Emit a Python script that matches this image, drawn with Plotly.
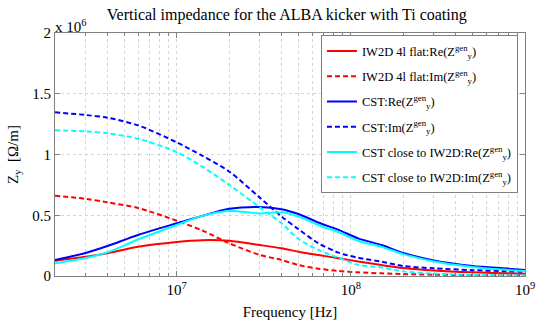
import plotly.graph_objects as go

# Frequencies [Hz]
freq = [2e6, 3e6, 4e6, 6e6, 1e7, 1.4e7, 2e7, 3e7, 4e7, 5e7, 6.5e7, 8.5e7,
        1.1e8, 1.5e8, 2e8, 3e8, 5e8, 7.5e8, 1e9]

# Impedance values in units of 1e6 Ohm/m
iw2d_re = [0.126, 0.158, 0.187, 0.240, 0.280, 0.295, 0.290, 0.255, 0.228, 0.200,
           0.173, 0.146, 0.120, 0.090, 0.066, 0.045, 0.030, 0.023, 0.019]
iw2d_im = [0.661, 0.635, 0.606, 0.560, 0.455, 0.375, 0.270, 0.173, 0.132, 0.090,
           0.060, 0.042, 0.030, 0.022, 0.016, 0.011, 0.007, 0.005, 0.003]
cst_re = [0.132, 0.190, 0.247, 0.338, 0.434, 0.495, 0.553, 0.568, 0.550, 0.510,
          0.440, 0.380, 0.310, 0.255, 0.190, 0.128, 0.083, 0.063, 0.050]
cst_im = [1.347, 1.325, 1.303, 1.240, 1.100, 0.990, 0.860, 0.645, 0.490, 0.385,
          0.270, 0.192, 0.150, 0.118, 0.082, 0.063, 0.048, 0.040, 0.035]
cstc_re = [0.104, 0.148, 0.195, 0.300, 0.420, 0.495, 0.535, 0.515, 0.525, 0.490,
           0.420, 0.360, 0.290, 0.240, 0.180, 0.120, 0.075, 0.053, 0.042]
cstc_im = [1.199, 1.190, 1.174, 1.130, 1.020, 0.900, 0.750, 0.565, 0.434, 0.305,
           0.215, 0.150, 0.092, 0.070, 0.038, 0.020, 0.010, 0.007, 0.005]

zlab = "(Z<sup>gen</sup><sub>y</sub>)"
series = [
    ("IW2D 4l flat:Re" + zlab, iw2d_re, "#ff0000", "solid"),
    ("IW2D 4l flat:Im" + zlab, iw2d_im, "#ff0000", "5px,3px"),
    ("CST:Re" + zlab, cst_re, "#0000ff", "solid"),
    ("CST:Im" + zlab, cst_im, "#0000ff", "5px,3px"),
    ("CST close to IW2D:Re" + zlab, cstc_re, "#00ffff", "solid"),
    ("CST close to IW2D:Im" + zlab, cstc_im, "#00ffff", "5px,3px"),
]

fig = go.Figure()
for i, (name, vals, col, dash) in enumerate(series):
    fig.add_trace(go.Scatter(x=freq, y=vals, mode="lines", name=name, legendgroup=f"g{i}",
                             line=dict(color=col, width=2, dash=dash, shape="spline", smoothing=0.8)))

minor_vals = [m * 10 ** e for e in (6, 7, 8) for m in range(2, 10) if m * 10 ** e > 2.05e6]
font = "Liberation Serif"
gridc = "#d4d4d4"
axc = "#808080"

fig.update_layout(
    width=536, height=320,
    margin=dict(l=55, r=11, t=33, b=44),
    paper_bgcolor="white", plot_bgcolor="white",
    font=dict(family=font, size=13, color="black"),
    title=dict(text="Vertical impedance for the ALBA kicker with Ti coating",
               x=0.535, xanchor="center", y=0.955, yanchor="middle",
               font=dict(family=font, size=16, color="black")),
    showlegend=True,
    legend=dict(x=0.985, y=0.99, xanchor="right", yanchor="top",
                bgcolor="white", bordercolor=axc, borderwidth=1,
                font=dict(family=font, size=12.5, color="black"),
                tracegroupgap=6, itemwidth=30),
    xaxis=dict(type="log", range=[6.301, 9.0], automargin=False,
               tickvals=[1e7, 1e8, 1e9],
               ticktext=["10<sup>7</sup>", "10<sup>8</sup>", "10<sup>9</sup>"],
               tickfont=dict(family=font, size=15),
               ticks="inside", ticklen=5, tickcolor=axc,
               showgrid=True, gridcolor=gridc, griddash="dot", gridwidth=1,
               minor=dict(tickvals=minor_vals, ticks="inside", ticklen=3, tickcolor=axc,
                          showgrid=True, gridcolor=gridc, griddash="dot", gridwidth=1),
               showline=True, linecolor=axc, linewidth=1, mirror="ticks",
               zeroline=False,
               title=dict(text="Frequency [Hz]", font=dict(family=font, size=15), standoff=20)),
    yaxis=dict(range=[0, 2], tickvals=[0, 0.5, 1, 1.5, 2], automargin=False,
               ticktext=["0", "0.5", "1", "1.5", "2"],
               tickfont=dict(family=font, size=15),
               ticks="inside", ticklen=5, tickcolor=axc,
               showgrid=True, gridcolor=gridc, griddash="dot", gridwidth=1,
               showline=True, linecolor=axc, linewidth=1, mirror="ticks",
               zeroline=False,
               title=dict(text="Z<sub>y</sub>  [Ω/m]", font=dict(family=font, size=15), standoff=10)),
)

fig.add_annotation(text="x 10<sup>6</sup>", xref="paper", yref="paper", x=0.0, y=1.0,
                   xanchor="left", yanchor="bottom", showarrow=False, xshift=-2, yshift=-4,
                   font=dict(family=font, size=15, color="black"))

fig.write_html("out.html")
